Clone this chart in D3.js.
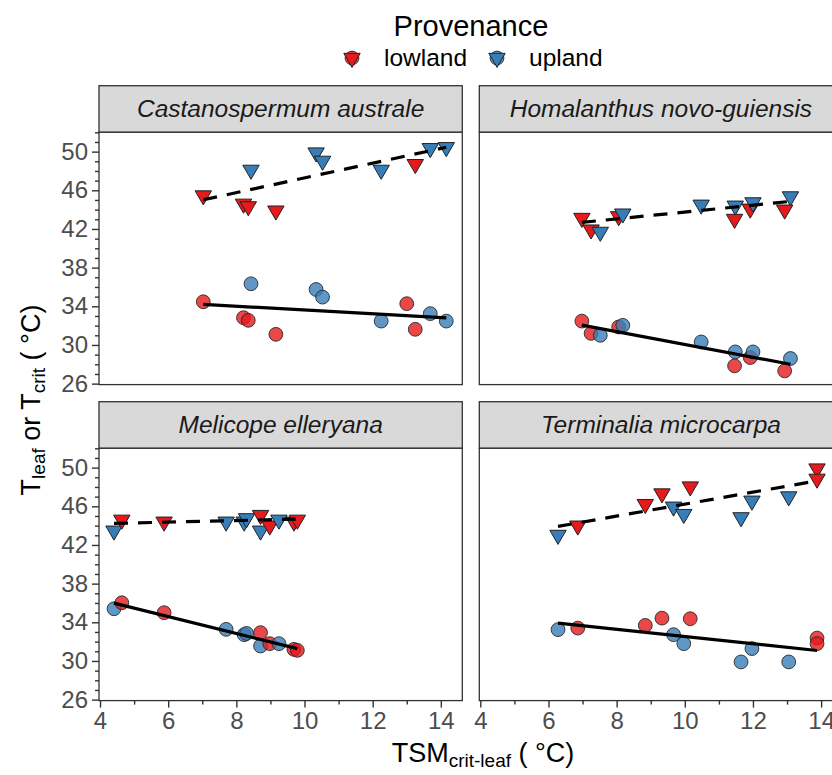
<!DOCTYPE html>
<html><head><meta charset="utf-8">
<script src="https://cdn.jsdelivr.net/npm/d3@7/dist/d3.min.js"></script>
<style>
html,body{margin:0;padding:0;background:#fff;}
svg{display:block;font-family:"Liberation Sans",Arial,sans-serif;}
</style></head>
<body>
<svg id="chart" width="832" height="775"></svg>
<script>
// ---------------- data ----------------
const species = ["Castanospermum australe","Homalanthus novo-guiensis","Melicope elleryana","Terminalia microcarpa"];
const provenances = ["lowland","upland"];
const provColors = ["#E41A1C","#377EB8"];

// Castanospermum australe
const castTSM   = [7.03, 8.21, 8.35, 9.16, 8.43, 10.34, 10.53, 12.25, 13.0, 13.25, 13.69, 14.16];
const castProv  = ["lowland","lowland","lowland","lowland","upland","upland","upland","upland","lowland","lowland","upland","upland"];
const castTcrit = [45.46, 44.6, 44.33, 43.89, 48.11, 49.9, 49.04, 48.11, null, 48.7, 50.35, 50.45];
const castTleaf = [34.47, 32.82, 32.55, 31.1, 36.33, 35.74, 34.95, 32.47, 34.27, 31.62, 33.24, 32.47];

// Homalanthus novo-guiensis
const homTSM   = [6.98, 7.25, 7.52, 8.06, 8.18, 10.48, 11.48, 11.46, 11.92, 12.0, 13.1, 12.93];
const homProv  = ["lowland","lowland","upland","lowland","upland","upland","upland","lowland","lowland","upland","upland","lowland"];
const homTcrit = [43.13, 41.93, 41.69, 43.3, 43.58, 44.5, 44.4, 43.03, 44.09, 44.74, 45.36, 43.99];
const homTleaf = [32.47, 31.2, 31.0, 31.86, 32.03, 30.31, 29.28, 27.84, 28.7, 29.28, 28.6, 27.32];

// Melicope elleryana
const melTSM   = [4.41, 4.64, 5.88, 7.7, 8.23, 8.30, 8.71, 8.71, 8.98, 9.25, 9.69, 9.79];
const melProv  = ["upland","lowland","lowland","upland","upland","upland","lowland","upland","lowland","upland","lowland","lowland"];
const melTcrit = [43.47, 44.6, 44.4, 44.4, 44.4, 44.75, 45.09, 43.47, 43.99, 44.6, 44.4, 44.6];
const melTleaf = [35.4, 36.02, 34.99, 33.27, 32.72, 32.85, 32.93, 31.55, 31.79, 31.79, 31.2, 31.1];

// Terminalia microcarpa
const terTSM   = [6.28, 6.86, 8.84, 9.33, 9.67, 9.97, 10.16, 11.65, 11.97, 13.05, 13.88, 13.88];
const terProv  = ["upland","lowland","lowland","lowland","upland","upland","lowland","upland","upland","upland","lowland","lowland"];
const terTcrit = [43.03, 43.99, 46.22, 47.32, 45.95, 45.19, 48.04, 44.85, 46.57, 47.01, 49.9, 48.84];
const terTleaf = [33.24, 33.4, 33.68, 34.43, 32.72, 31.79, 34.37, 29.9, 31.28, 29.9, 32.37, 31.79];

// fitted lines: [x0, y0, x1, y1]
const castFitTcrit = [7.03, 45.02, 14.16, 50.45];
const castFitTleaf = [7.03, 34.2, 14.16, 32.8];
const homFitTcrit  = [6.98, 42.68, 13.1, 44.85];
const homFitTleaf  = [6.98, 32.05, 13.1, 28.0];
const melFitTcrit  = [4.41, 44.23, 9.79, 44.68];
const melFitTleaf  = [4.41, 35.98, 9.79, 31.28];
const terFitTcrit  = [6.28, 43.92, 13.88, 48.63];
const terFitTleaf  = [6.28, 33.92, 13.88, 31.08];

const xTicks = [4, 6, 8, 10, 12, 14];
const xMinorTicks = [5, 7, 9, 11, 13];
const yTicks = [26, 30, 34, 38, 42, 46, 50];
const yMinorTicks = [27,28,29,31,32,33,35,36,37,39,40,41,43,44,45,47,48,49,51,52];
const xDomain = [3.97, 14.63];
const yDomain = [25.9, 52.0];

// ---------------- assemble ----------------
function rows(tsm, prov, tcrit, tleaf){
  return tsm.map((x,i)=>({x, prov:prov[i], tcrit:tcrit[i], tleaf:tleaf[i]}));
}
const facets = [
  {name:species[0], data:rows(castTSM,castProv,castTcrit,castTleaf), fitC:castFitTcrit, fitL:castFitTleaf},
  {name:species[1], data:rows(homTSM,homProv,homTcrit,homTleaf), fitC:homFitTcrit, fitL:homFitTleaf},
  {name:species[2], data:rows(melTSM,melProv,melTcrit,melTleaf), fitC:melFitTcrit, fitL:melFitTleaf},
  {name:species[3], data:rows(terTSM,terProv,terTcrit,terTleaf), fitC:terFitTcrit, fitL:terFitTleaf}
];

const color = d3.scaleOrdinal().domain(provenances).range(provColors);

// layout
const colX = [99, 479.3];
const panelW = 363.3;
const stripTop = [85.7, 401.7];
const stripH = 46.6;
const panelH = 252.3;
const FONT = '"Liberation Sans",Arial,sans-serif';

const svg = d3.select("#chart");
const x0 = d3.scaleLinear().domain(xDomain).range([0, panelW]);
const y0 = d3.scaleLinear().domain(yDomain).range([panelH, 0]);

const triPath = "M-8.2,-4.7 L8.2,-4.7 L0,9.4 Z";

facets.forEach((f, i) => {
  const col = i % 2, row = Math.floor(i / 2);
  const px = colX[col], sy = stripTop[row], py = sy + stripH;

  // strip
  const st = svg.append("g").attr("transform", `translate(${px},${sy})`);
  st.append("rect").attr("width", panelW).attr("height", stripH)
    .attr("fill", "#D9D9D9").attr("stroke", "#333333").attr("stroke-width", 1.3);
  st.append("text").attr("x", panelW/2).attr("y", stripH/2 + 8.5)
    .attr("text-anchor","middle").attr("font-style","italic")
    .attr("font-size", 24.5).attr("fill","#1A1A1A").text(f.name);

  const g = svg.append("g").attr("transform", `translate(${px},${py})`);
  g.append("rect").attr("width", panelW).attr("height", panelH).attr("fill","#fff");

  const clip = "clip" + i;
  g.append("clipPath").attr("id", clip).append("rect").attr("width", panelW).attr("height", panelH);
  const pg = g.append("g").attr("clip-path", `url(#${clip})`);

  // circles (Tleaf)
  pg.selectAll("circle.pt").data(f.data).join("circle")
    .attr("class","pt")
    .attr("cx", d => x0(d.x)).attr("cy", d => y0(d.tleaf)).attr("r", 6.9)
    .attr("fill", d => color(d.prov)).attr("fill-opacity", 0.8)
    .attr("stroke", "#222").attr("stroke-opacity", 0.85).attr("stroke-width", 1);

  // triangles (Tcrit)
  pg.selectAll("path.tri").data(f.data.filter(d => d.tcrit != null)).join("path")
    .attr("class","tri")
    .attr("transform", d => `translate(${x0(d.x)},${y0(d.tcrit)})`)
    .attr("d", triPath)
    .attr("fill", d => color(d.prov))
    .attr("stroke", "#222").attr("stroke-width", 1);

  // fit lines
  const line = d3.line().x(d => x0(d[0])).y(d => y0(d[1]));
  pg.append("path").datum([[f.fitC[0], f.fitC[1]], [f.fitC[2], f.fitC[3]]])
    .attr("d", line).attr("stroke", "#000").attr("stroke-width", 3.2)
    .attr("stroke-dasharray", "14,10").attr("fill","none");
  pg.append("path").datum([[f.fitL[0], f.fitL[1]], [f.fitL[2], f.fitL[3]]])
    .attr("d", line).attr("stroke", "#000").attr("stroke-width", 3.2).attr("fill","none");

  // border
  g.append("rect").attr("width", panelW).attr("height", panelH)
    .attr("fill","none").attr("stroke","#333333").attr("stroke-width",1.3);

  // y axis (left column only)
  if (col === 0) {
    const ya = g.append("g");
    ya.call(d3.axisLeft(y0).tickValues(yTicks).tickSize(7).tickPadding(4));
    ya.select(".domain").remove();
    ya.selectAll(".tick line").attr("stroke","#333333").attr("stroke-width",1.4);
    ya.selectAll(".tick text").attr("fill","#4D4D4D").attr("font-size",24)
      .attr("font-family",FONT);
    const ym = g.append("g");
    ym.call(d3.axisLeft(y0).tickValues(yMinorTicks).tickSize(4).tickFormat(""));
    ym.select(".domain").remove();
    ym.selectAll(".tick line").attr("stroke","#333333").attr("stroke-width",1.4);
  }
  // x axis (bottom row only)
  if (row === 1) {
    const xa = g.append("g").attr("transform", `translate(0,${panelH})`);
    xa.call(d3.axisBottom(x0).tickValues(xTicks).tickSize(7).tickPadding(4));
    xa.select(".domain").remove();
    xa.selectAll(".tick line").attr("stroke","#333333").attr("stroke-width",1.4);
    xa.selectAll(".tick text").attr("fill","#4D4D4D").attr("font-size",24)
      .attr("font-family",FONT);
    const xm = g.append("g").attr("transform", `translate(0,${panelH})`);
    xm.call(d3.axisBottom(x0).tickValues(xMinorTicks).tickSize(4).tickFormat(""));
    xm.select(".domain").remove();
    xm.selectAll(".tick line").attr("stroke","#333333").attr("stroke-width",1.4);
  }
});

// axis titles
const xt = svg.append("text").attr("x", 483).attr("y", 762).attr("text-anchor","middle")
  .attr("font-size", 27).attr("fill","#000");
xt.append("tspan").text("TSM");
xt.append("tspan").attr("font-size", 19).attr("dy", 5).text("crit-leaf");
xt.append("tspan").attr("dy", -5).text(" ( °C)");

const yt = svg.append("text").attr("transform","translate(40,400) rotate(-90)")
  .attr("text-anchor","middle").attr("font-size", 27).attr("fill","#000");
yt.append("tspan").text("T");
yt.append("tspan").attr("font-size", 19).attr("dy", 5).text("leaf");
yt.append("tspan").attr("dy", -5).text(" or T");
yt.append("tspan").attr("font-size", 19).attr("dy", 5).text("crit");
yt.append("tspan").attr("dy", -5).text(" ( °C)");

// legend
svg.append("text").attr("x", 471).attr("y", 36).attr("text-anchor","middle")
  .attr("font-size", 29).attr("fill","#000").text("Provenance");
const legX = [352, 497];
provenances.forEach((p, i) => {
  const lg = svg.append("g").attr("transform", `translate(${legX[i]},58)`);
  lg.append("circle").attr("r", 6.9).attr("fill", color(p)).attr("fill-opacity",0.8)
    .attr("stroke","#222").attr("stroke-opacity",0.85);
  lg.append("path").attr("d", triPath).attr("fill", color(p)).attr("stroke","#222");
  lg.append("text").attr("x", 32).attr("y", 8).attr("font-size", 24.5).attr("fill","#000").text(p);
});
</script>
</body></html>
